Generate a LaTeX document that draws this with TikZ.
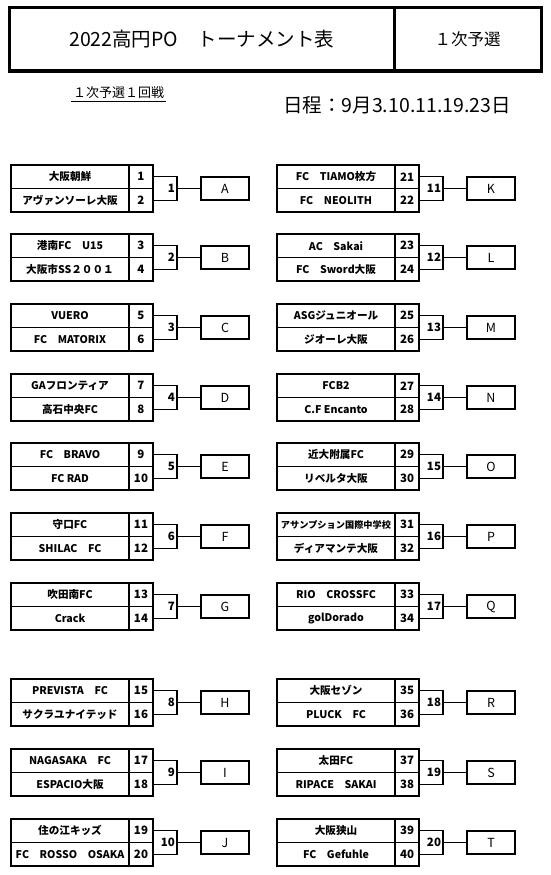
\documentclass[tikz,border=0pt]{standalone}
\usepackage{fontspec}
\setmainfont{Noto Sans CJK JP}
\usetikzlibrary{positioning}
\newcommand\NameFont{\fontsize{10.6}{12}\selectfont\bfseries}
\newcommand\SeedFont{\fontsize{11.5}{13}\selectfont\bfseries}
\tikzset{
  box/.style={
    draw,
    line width=1.8pt,
    inner sep=0pt,
    outer sep=0pt
  },
  team/.style={
    box,
    minimum width=118pt,
    minimum height=23.5pt,
    font=\NameFont
  },
  seed/.style={
    box,
    minimum width=24pt,
    minimum height=23.5pt,
    font=\SeedFont
  },
  match/.style={
    box,
    text width=20pt,
    inner xsep=2pt,
    align=right,
    minimum height=24pt,
    font=\SeedFont
  },
  slot/.style={
    box,
    minimum width=48pt,
    minimum height=23pt,
    font=\fontsize{12.5}{14}\selectfont
  },
  link/.style={
    line width=1.8pt
  },
  headbox/.style={
    draw,
    line width=3pt,
    inner sep=0pt,
    outer sep=0pt,
    minimum height=63.5pt
  }
}
% one first-round pair: x, y (top), match no., team a, team b, slot letter
\newcommand\Pair[6]{%
  \pgfmathtruncatemacro\Ta{2*#3-1}%
  \pgfmathtruncatemacro\Tb{2*#3}%
  \node[team, anchor=north west] (t\Ta) at (#1,#2) {#4};
  \node[team, anchor=north] (t\Tb) at (t\Ta.south) {#5};
  \node[seed, anchor=west] (n\Ta) at (t\Ta.east) {\Ta};
  \node[seed, anchor=west] (n\Tb) at (t\Tb.east) {\Tb};
  \node[match, anchor=west] (m#3) at (n\Ta.south east) {#3};
  \node[slot, right=24pt of m#3] (s#6) {#6};
  \draw[link] (m#3) -- (s#6);
}
\begin{document}
\begin{tikzpicture}[x=1pt,y=-1pt]
\useasboundingbox (0,0) rectangle (550,875);

% header
\node[headbox, minimum width=384.5pt, anchor=north west] (head) at (9.5,7.5) {};
\node[headbox, minimum width=147pt, anchor=north west] (stage) at (head.north east) {};
\node[font=\fontsize{19.5}{22}\selectfont] (title) at (head.center) {2022高円PO　トーナメント表};
\node[font=\fontsize{16.5}{18}\selectfont] (stagetxt) at (stage.center) {１次予選};
\node[font=\fontsize{13}{15}\selectfont, inner sep=1pt] (round) at (118.5,93) {１次予選１回戦};
\draw[line width=0.8pt] ([xshift=-1pt,yshift=-1pt]round.south west) -- ([xshift=1pt,yshift=-1pt]round.south east);
\node[font=\fontsize{19.5}{22}\selectfont] (dates) at (397,105) {日程：9月3.10.11.19.23日};

% left block
\Pair{11}{165}{1}{大阪朝鮮}{アヴァンソーレ大阪}{A}
\Pair{11}{234}{2}{港南FC　U15}{大阪市SS２００１}{B}
\Pair{11}{304}{3}{VUERO}{FC　MATORIX}{C}
\Pair{11}{374}{4}{GAフロンティア}{高石中央FC}{D}
\Pair{11}{443}{5}{FC　BRAVO}{FC RAD}{E}
\Pair{11}{513}{6}{守口FC}{SHILAC　FC}{F}
\Pair{11}{583}{7}{吹田南FC}{Crack}{G}
\Pair{11}{679}{8}{PREVISTA　FC}{サクラユナイテッド}{H}
\Pair{11}{749}{9}{NAGASAKA　FC}{ESPACIO大阪}{I}
\Pair{11}{819}{10}{住の江キッズ}{FC　ROSSO　OSAKA}{J}

% right block
\Pair{277}{165}{11}{FC　TIAMO枚方}{FC　NEOLITH}{K}
\Pair{277}{234}{12}{AC　Sakai}{FC　Sword大阪}{L}
\Pair{277}{304}{13}{ASGジュニオール}{ジオーレ大阪}{M}
\Pair{277}{374}{14}{FCB2}{C.F Encanto}{N}
\Pair{277}{443}{15}{近大附属FC}{リベルタ大阪}{O}
\Pair{277}{513}{16}{{\fontsize{9.2}{10}\selectfont アサンプション国際中学校}}{ディアマンテ大阪}{P}
\Pair{277}{583}{17}{RIO　CROSSFC}{golDorado}{Q}
\Pair{277}{679}{18}{大阪セゾン}{PLUCK　FC}{R}
\Pair{277}{749}{19}{太田FC}{RIPACE　SAKAI}{S}
\Pair{277}{819}{20}{大阪狭山}{FC　Gefuhle}{T}
\end{tikzpicture}
\end{document}
